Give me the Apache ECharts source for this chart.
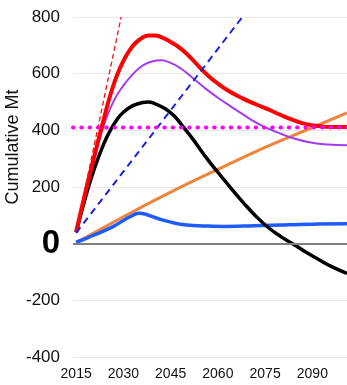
<!DOCTYPE html>
<html>
<head>
<meta charset="utf-8">
<script src="https://cdn.jsdelivr.net/npm/echarts@6/dist/echarts.min.js"></script>
<style>
    html, body { margin: 0; padding: 0; background: #fff; }
    #chart { width: 347px; height: 385px; }
</style>
</head>
<body>
<div id="chart"></div>
<script>
// years shown on the x axis
const yearTicks = [2015, 2030, 2045, 2060, 2075, 2090];

// cumulative Mt as [year, value]
const redThick = [[2015, 42], [2018, 185], [2021, 320], [2024, 450], [2026, 530], [2028, 595], [2030, 645], [2032, 683],
    [2034, 710], [2036, 727], [2038, 735], [2040, 735], [2042, 729], [2045, 712], [2048, 690], [2051, 660], [2054, 625],
    [2057, 592], [2060, 565], [2064, 535], [2068, 512], [2072, 492], [2076, 474], [2080, 454], [2084, 436], [2088, 422],
    [2092, 415], [2096, 412], [2101, 412]];
const purple = [[2015, 42], [2018, 175], [2021, 305], [2024, 425], [2027, 505], [2030, 558], [2033, 598], [2036, 628],
    [2039, 643], [2042, 647], [2045, 638], [2048, 620], [2052, 585], [2056, 548], [2060, 515], [2064, 485],
    [2068, 456], [2072, 428], [2076, 406], [2080, 388], [2084, 372], [2089, 358], [2095, 350], [2101, 347]];
const black = [[2015, 40], [2018, 165], [2021, 272], [2024, 358], [2026, 403], [2028, 438], [2030, 464], [2033, 487],
    [2036, 498], [2038, 500], [2040, 494], [2043, 478], [2046, 452], [2049, 412], [2052, 370], [2056, 308], [2060, 252],
    [2064, 198], [2068, 146], [2072, 98], [2076, 57], [2080, 25], [2084, -2], [2088, -30], [2092, -56], [2096, -80], [2101, -105]];
const blueSolid = [[2015, 5], [2018, 18], [2021, 32], [2024, 46], [2027, 62], [2030, 82], [2033, 100], [2035, 107],
    [2037, 104], [2039, 96], [2042, 85], [2045, 76], [2048, 69], [2052, 64], [2057, 62], [2062, 61], [2068, 62],
    [2074, 64], [2080, 66], [2086, 68], [2092, 69], [2101, 70]];
const orange = [[2015, 3], [2030, 95], [2045, 182], [2060, 262], [2075, 340], [2090, 410], [2101, 462]];
const redDashed = [[2015, 45], [2029.3, 800]];
const blueDashed = [[2015, 38], [2067.8, 800]];
const magentaLevel = [[2014, 410], [2101, 410]];

const font = 'Liberation Sans, Arial, sans-serif';

let option = {
    animation: false,
    grid: {
        left: 73,
        right: 0,
        top: 17,
        bottom: 28
    },
    graphic: [
        {
            type: 'text',
            x: 13,
            y: 147,
            rotation: Math.PI / 2,
            style: {
                text: 'Cumulative Mt',
                font: '18px ' + font,
                fill: '#111',
                align: 'center',
                verticalAlign: 'middle'
            }
        }
    ],
    xAxis: {
        type: 'value',
        min: 2014,
        max: 2101,
        axisLine: { show: false },
        axisTick: { show: false },
        splitLine: { show: false },
        axisLabel: {
            customValues: yearTicks,
            formatter: (v) => String(v),
            color: '#111',
            fontSize: 14,
            fontFamily: font,
            margin: 10
        }
    },
    yAxis: {
        type: 'value',
        min: -400,
        max: 800,
        interval: 200,
        axisLine: { show: false },
        axisTick: { show: false },
        splitLine: {
            lineStyle: { color: '#e8e8e8', width: 1 }
        },
        axisLabel: {
            color: '#111',
            fontSize: 17,
            fontFamily: font,
            margin: 13,
            formatter: function (v) {
                return v === 0 ? '{z|0}' : String(v);
            },
            rich: {
                z: { fontSize: 33, fontWeight: 'bold', color: '#000', fontFamily: font }
            }
        }
    },
    series: [
        {
            type: 'line',
            data: orange,
            smooth: true,
            symbol: 'none',
            lineStyle: { color: '#f0843c', width: 3 },
            markLine: {
                silent: true,
                symbol: 'none',
                label: { show: false },
                lineStyle: { color: '#808080', width: 2, type: 'solid' },
                data: [{ yAxis: 0 }]
            }
        },
        {
            type: 'line',
            data: blueSolid,
            smooth: true,
            symbol: 'none',
            lineStyle: { color: '#1f5cff', width: 3.5 }
        },
        {
            type: 'line',
            data: black,
            smooth: true,
            symbol: 'none',
            lineStyle: { color: '#000000', width: 3.5 }
        },
        {
            type: 'line',
            data: purple,
            smooth: true,
            symbol: 'none',
            lineStyle: { color: '#a23cf0', width: 2 }
        },
        {
            type: 'line',
            data: redThick,
            smooth: true,
            symbol: 'none',
            lineStyle: { color: '#ff0000', width: 4 }
        },
        {
            type: 'line',
            data: redDashed,
            symbol: 'none',
            lineStyle: { color: '#e81818', width: 1.3, type: [5, 3] }
        },
        {
            type: 'line',
            data: blueDashed,
            symbol: 'none',
            lineStyle: { color: '#1a22e0', width: 2, type: [7, 5] }
        },
        {
            type: 'line',
            data: magentaLevel,
            symbol: 'none',
            lineStyle: { color: '#ff00ff', width: 4, type: [0.5, 7.8], cap: 'round' }
        }
    ]
};

const chartInit = () => {
    let myChart = echarts.init(document.getElementById('chart'));
    option && myChart.setOption(option);
}

chartInit();
</script>
</body>
</html>
